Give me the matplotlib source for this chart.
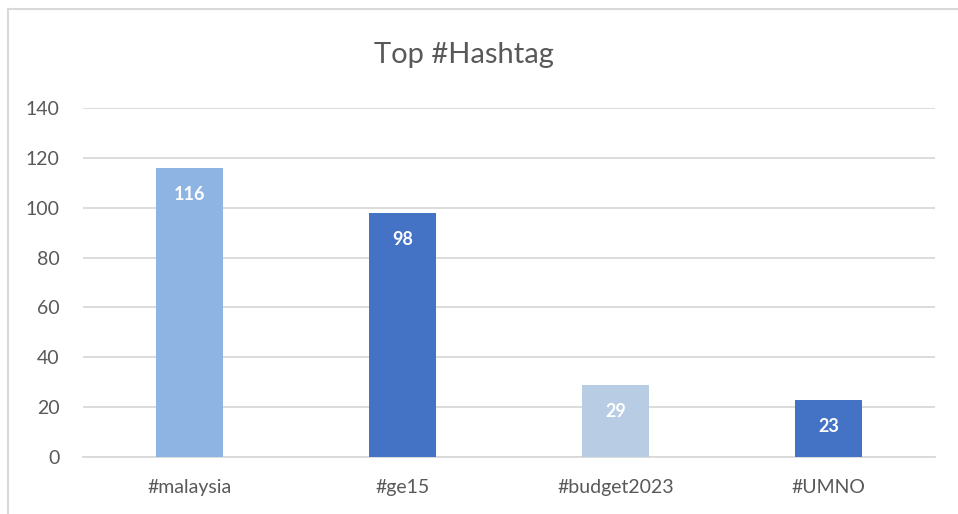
import numpy as np
import matplotlib.pyplot as plt
from matplotlib.lines import Line2D

# hashtag counts
tags = ["#malaysia", "#ge15", "#budget2023", "#UMNO"]
counts = [116, 98, 29, 23]
bar_colors = ["#8EB4E3", "#4472C4", "#B8CCE4", "#4472C4"]
yticks = [0, 20, 40, 60, 80, 100, 120, 140]

plt.rcParams['font.family'] = ['Lato', 'DejaVu Sans']

fig = plt.figure(figsize=(9.58, 5.14), dpi=100)
ax = fig.add_axes([83/958, 57/514, 852/958, 349/514])

x = np.arange(len(tags))
bars = ax.bar(x, counts, width=0.31, color=bar_colors, zorder=3)

for b, v in zip(bars, counts):
    ax.annotate(str(v), (b.get_x() + b.get_width()/2, v), xytext=(0, -19),
                textcoords="offset points", ha="center", va="center",
                color="white", fontweight="bold", fontsize=13)

ax.set_xlim(-0.5, len(tags) - 0.5)
ax.set_ylim(0, 140)
ax.set_yticks(yticks)
ax.set_xticks(x)
ax.set_xticklabels(tags)
ax.yaxis.grid(True, color="#D9D9D9", linewidth=1.3, zorder=0)
ax.tick_params(axis="both", length=0, labelsize=14, colors="#595959")
ax.tick_params(axis="y", pad=17)
ax.tick_params(axis="x", pad=16)
for s in ["top", "right", "left"]:
    ax.spines[s].set_visible(False)
ax.spines["bottom"].set_color("#D9D9D9")
ax.spines["bottom"].set_linewidth(1.3)

fig.text(464/958, 1 - 55/514, "Top #Hashtag", ha="center", va="center",
         fontsize=21, color="#595959")

# chart frame
fig.add_artist(Line2D([8/958, 8/958], [0, 1 - 9/514], color="#D9D9D9", lw=1.5))
fig.add_artist(Line2D([8/958, 1], [1 - 9/514, 1 - 9/514], color="#D9D9D9", lw=1.5))

fig.savefig("out.png", dpi=100)
